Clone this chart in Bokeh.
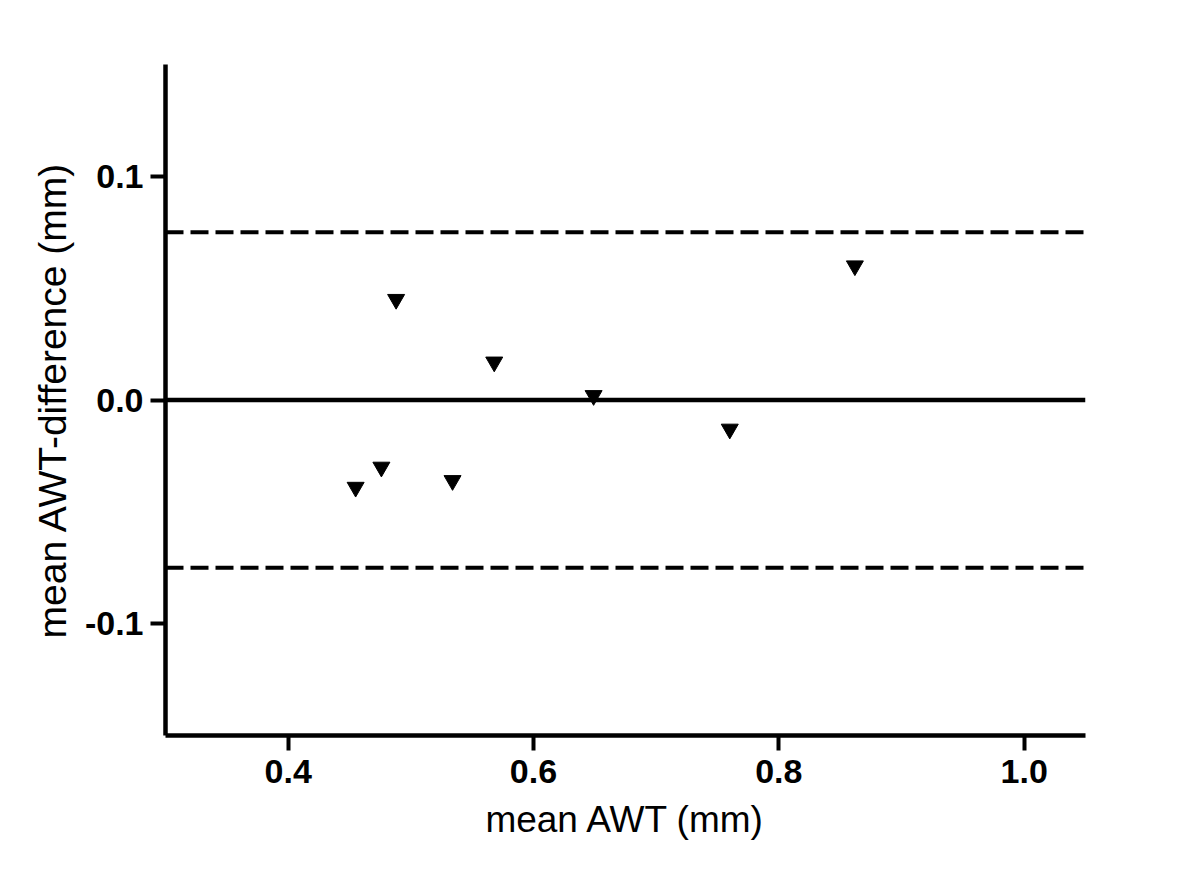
from bokeh.plotting import figure
from bokeh.models import Range1d, FixedTicker, NumeralTickFormatter, Span, ColumnDataSource
from bokeh.embed import file_html
from bokeh.resources import INLINE

# Data (Bland-Altman style plot)
mean_awt = [0.455, 0.476, 0.488, 0.534, 0.568, 0.649, 0.760, 0.862]
diff_awt = [-0.039, -0.030, 0.045, -0.036, 0.017, 0.002, -0.013, 0.060]
bias = 0.0
loa_upper = 0.075
loa_lower = -0.075
x_ticks = [0.4, 0.6, 0.8, 1.0]
y_ticks = [-0.1, 0.0, 0.1]
x_limits = (0.3, 1.05)
y_limits = (-0.15, 0.15)

p = figure(
    width=1190, height=868,
    x_range=Range1d(*x_limits), y_range=Range1d(*y_limits),
    output_backend="svg", toolbar_location=None,
    min_border_left=165, min_border_right=105,
    min_border_top=64, min_border_bottom=133,
)
p.outline_line_color = None
p.xgrid.visible = False
p.ygrid.visible = False
p.background_fill_color = "white"
p.border_fill_color = "white"

# reference lines
p.add_layout(Span(location=bias, dimension="width", line_color="black",
                  line_width=4.5, level="underlay"))
for loc in (loa_upper, loa_lower):
    p.add_layout(Span(location=loc, dimension="width", line_color="black",
                      line_width=4, line_dash="18 7", level="underlay"))

src = ColumnDataSource(dict(x=mean_awt, y=diff_awt))
p.scatter("x", "y", source=src, marker="inverted_triangle", size=17,
          fill_color="black", line_color="black")

for ax, ticks in ((p.xaxis, x_ticks), (p.yaxis, y_ticks)):
    ax.ticker = FixedTicker(ticks=ticks, minor_ticks=[])
    ax.formatter = NumeralTickFormatter(format="0.0")
    ax.axis_line_width = 4.5
    ax.axis_line_color = "black"
    ax.major_tick_line_width = 4
    ax.major_tick_line_color = "black"
    ax.major_tick_in = 0
    ax.major_tick_out = 15
    ax.minor_tick_in = 0
    ax.minor_tick_out = 0
    ax.major_label_text_font = "Liberation Sans"
    ax.major_label_text_font_style = "bold"
    ax.major_label_text_font_size = "34px"
    ax.major_label_text_color = "black"
    ax.axis_label_text_font = "Liberation Sans"
    ax.axis_label_text_font_style = "normal"
    ax.axis_label_text_color = "black"

p.xaxis.axis_label_text_font_size = "37px"
p.yaxis.axis_label_text_font_size = "39px"
p.xaxis.axis_label = "mean AWT (mm)"
p.yaxis.axis_label = "mean AWT-difference (mm)"
p.xaxis.major_label_standoff = 9
p.yaxis.major_label_standoff = 7
p.xaxis.axis_label_standoff = 13
p.yaxis.axis_label_standoff = 8

open("out.html", "w").write(file_html(p, INLINE))
